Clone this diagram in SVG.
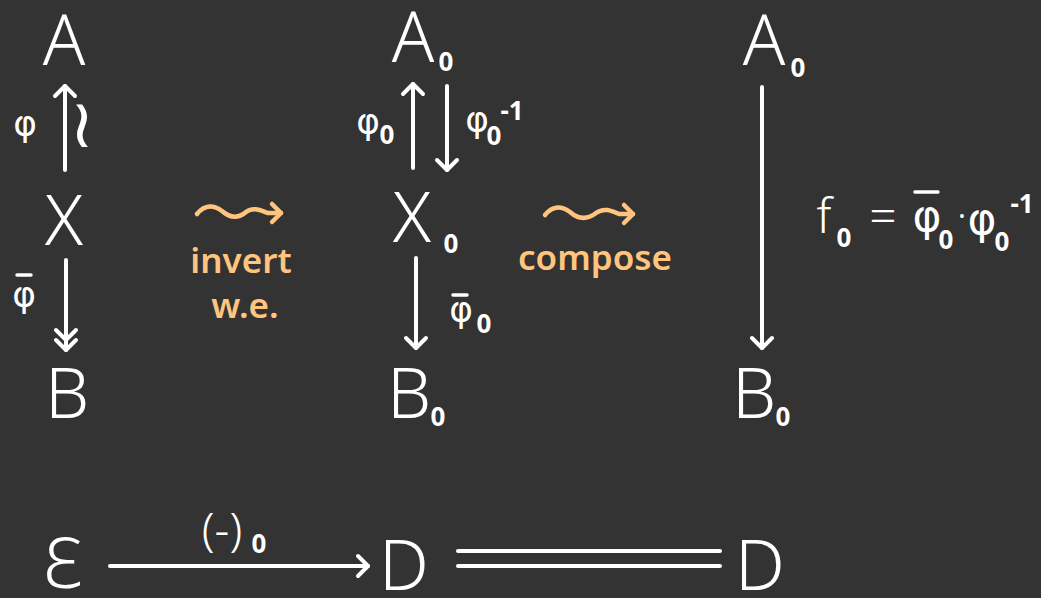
<svg xmlns="http://www.w3.org/2000/svg" width="1041" height="598" viewBox="0 0 1041 598">
<style>
.t{font-family:"Noto Sans","DejaVu Sans",sans-serif;fill:#fff;font-weight:300}
.g{font-family:"DejaVu Sans","Noto Sans",sans-serif;fill:#fff;font-size:36px}
.gl{font-family:"DejaVu Sans","Noto Sans",sans-serif;fill:#fff;font-size:44px}
.big{font-size:70px;text-anchor:middle}
.sub{font-family:"Noto Sans","DejaVu Sans",sans-serif;font-size:26px;font-weight:700;fill:#fff}
.or{font-family:"Noto Sans","DejaVu Sans",sans-serif;fill:#FFC57F;font-size:35px;font-weight:600;text-anchor:middle}
.ln{stroke:#fff;stroke-width:4;fill:none;stroke-linecap:round}
.bar{stroke:#fff;stroke-width:3.5;stroke-linecap:round}
.sq{stroke:#FFC57F;stroke-width:4.5;fill:none;stroke-linecap:round;stroke-linejoin:round}
</style>
<defs>
<marker id="h" markerUnits="userSpaceOnUse" markerWidth="30" markerHeight="30" refX="15" refY="15" orient="auto" viewBox="0 0 30 30">
<path d="M5,5 L15,15 L5,25" stroke="#fff" stroke-width="4" fill="none" stroke-linecap="round" stroke-linejoin="round"/>
</marker>
<marker id="hh" markerUnits="userSpaceOnUse" markerWidth="40" markerHeight="30" refX="25" refY="15" orient="auto" viewBox="0 0 40 30">
<path d="M15,5 L25,15 L15,25 M5,5 L15,15 L5,25" stroke="#fff" stroke-width="4" fill="none" stroke-linecap="round" stroke-linejoin="round"/>
</marker>
<marker id="ho" markerUnits="userSpaceOnUse" markerWidth="30" markerHeight="30" refX="15" refY="15" orient="auto" viewBox="0 0 30 30">
<path d="M6,6 L15,15 L6,24" stroke="#FFC57F" stroke-width="4.5" fill="none" stroke-linecap="round" stroke-linejoin="round"/>
</marker>
</defs>
<rect width="1041" height="598" fill="#333333"/>

<g id="connectors">
<line class="ln" x1="65" y1="170" x2="65" y2="86" marker-end="url(#h)"/>
<line class="ln" x1="66" y1="260" x2="66" y2="350" marker-end="url(#hh)"/>
<line class="ln" x1="413" y1="168" x2="413" y2="84" marker-end="url(#h)"/>
<line class="ln" x1="447" y1="86" x2="447" y2="170" marker-end="url(#h)"/>
<line class="ln" x1="416" y1="258" x2="416" y2="348" marker-end="url(#h)"/>
<line class="ln" x1="762" y1="87" x2="762" y2="348" marker-end="url(#h)"/>
<line class="ln" x1="110" y1="566" x2="368" y2="566" marker-end="url(#h)"/>
<line class="ln" x1="458" y1="551" x2="720" y2="551"/>
<line class="ln" x1="458" y1="566" x2="720" y2="566"/>
<path class="sq" d="M197,214 C205,204 214,205 222,211 C230,218 238,219 246,212 C254,206 262,211 268,213 L281,213" marker-end="url(#ho)"/>
<path class="sq" d="M545,215 C553,205 562,206 570,212 C578,219 587,220 596,213 C604,207 612,211 619,214 L633,214" marker-end="url(#ho)"/>
</g>

<g id="labels">
<text class="g" x="25" y="136" text-anchor="middle">φ</text>
<text class="g" x="82" y="147" style="font-size:68px" text-anchor="middle">≀</text>
<line class="bar" x1="17" y1="275" x2="31" y2="275"/>
<text class="g" x="24" y="307" text-anchor="middle">φ</text>
<text class="g" x="368" y="134" text-anchor="middle">φ</text>
<text class="sub" x="387" y="144" text-anchor="middle">0</text>
<text class="g" x="477" y="132" text-anchor="middle">φ</text>
<text class="sub" x="494" y="145" text-anchor="middle">0</text>
<text class="sub" x="512" y="120" text-anchor="middle">-1</text>
<line class="bar" x1="453" y1="295" x2="467" y2="295"/>
<text class="g" x="461" y="322" text-anchor="middle">φ</text>
<text class="sub" x="484" y="333" text-anchor="middle">0</text>
<text class="t" x="824" y="233" font-size="48" text-anchor="middle">f</text>
<text class="sub" x="844" y="247" text-anchor="middle">0</text>
<text class="t" x="883" y="233" font-size="48" text-anchor="middle">=</text>
<line class="bar" x1="915" y1="192" x2="938" y2="192"/>
<text class="gl" x="927" y="231" text-anchor="middle">φ</text>
<text class="sub" x="946" y="249" text-anchor="middle">0</text>
<text class="t" x="962" y="230" font-size="40" font-weight="700" text-anchor="middle">·</text>
<text class="gl" x="982" y="234" text-anchor="middle">φ</text>
<text class="sub" x="1002" y="251" text-anchor="middle">0</text>
<text class="sub" x="1022" y="213" text-anchor="middle">-1</text>
<text class="t" x="222" y="546" font-size="46" font-weight="400" text-anchor="middle">(-)</text>
<text class="sub" x="259" y="553" text-anchor="middle">0</text>
</g>

<g id="orange">
<text class="or" x="241" y="273">invert</text>
<text class="or" x="245" y="318">w.e.</text>
<text class="or" x="595" y="270">compose</text>
</g>

<g id="node-A"><text class="t big" x="64" y="65">A</text></g>
<g id="node-X"><text class="t big" x="64" y="245">X</text></g>
<g id="node-B"><text class="t big" x="67" y="418">B</text></g>
<g id="node-A0"><text class="t big" x="413" y="62">A</text><text class="sub" x="446" y="71" text-anchor="middle">0</text></g>
<g id="node-X0"><text class="t big" x="412" y="242">X</text><text class="sub" x="451" y="253" text-anchor="middle">0</text></g>
<g id="node-B0"><text class="t big" x="409" y="418">B</text><text class="sub" x="438" y="426" text-anchor="middle">0</text></g>
<g id="node-A0r"><text class="t big" x="764" y="65">A</text><text class="sub" x="798" y="77" text-anchor="middle">0</text></g>
<g id="node-B0r"><text class="t big" x="754" y="418">B</text><text class="sub" x="783" y="426" text-anchor="middle">0</text></g>
<g id="node-E"><text class="t big" x="63" y="588">Ɛ</text></g>
<g id="node-D1"><text class="t big" x="404" y="590">D</text></g>
<g id="node-D2"><text class="t big" x="760" y="590">D</text></g>
</svg>
